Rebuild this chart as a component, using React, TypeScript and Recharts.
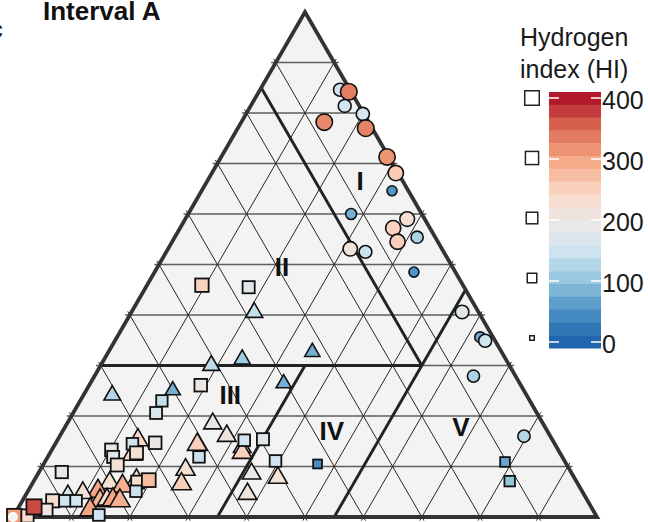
import { Area, ComposedChart, Line, Scatter, XAxis, YAxis } from 'recharts'

const W = 648
const H = 522
const FONT = '"Liberation Sans", Arial, sans-serif'

// samples as [A (top), B (left), C (right), HI], percentages
const circles = [
  [84.6, 1.7, 13.7, 150],
  [84.2, 0.4, 15.4, 335],
  [81.4, 2.5, 16.1, 150],
  [79.8, 0.2, 20.0, 160],
  [78.2, 7.6, 14.2, 325],
  [77.0, 1.1, 21.9, 330],
  [71.3, 0.3, 28.4, 315],
  [68.1, 0.4, 31.5, 260],
  [64.6, 2.8, 32.6, 55],
  [60.0, 12.1, 27.9, 80],
  [59.0, 3.0, 38.0, 230],
  [57.2, 6.3, 36.5, 250],
  [55.4, 3.1, 41.5, 120],
  [54.5, 6.9, 38.6, 255],
  [53.1, 15.7, 31.2, 215],
  [52.5, 13.4, 34.1, 145],
  [48.5, 7.1, 44.4, 55],
  [40.6, 2.8, 56.6, 175],
  [35.6, 2.2, 62.2, 75],
  [34.9, 1.7, 63.4, 150],
  [27.9, 7.2, 64.9, 120],
  [16.0, 4.5, 79.5, 125],
]

const squares = [
  [10.9, 10.3, 78.8, 70],
  [7.1, 11.4, 81.5, 100],
  [10.5, 42.6, 46.9, 45],
  [45.9, 44.7, 9.4, 250],
  [45.5, 36.9, 17.6, 175],
  [26.1, 54.8, 19.1, 200],
  [23.0, 63.0, 14.0, 140],
  [20.6, 65.2, 14.2, 165],
  [14.7, 68.3, 17.0, 200],
  [14.5, 72.3, 13.2, 150],
  [13.3, 76.5, 10.2, 200],
  [11.9, 76.9, 11.2, 170],
  [12.7, 72.5, 14.8, 225],
  [10.3, 77.0, 12.7, 225],
  [11.9, 62.2, 25.9, 145],
  [15.2, 52.8, 32.0, 150],
  [15.4, 49.5, 35.1, 175],
  [11.1, 49.5, 39.4, 150],
  [8.9, 87.2, 3.9, 185],
  [6.9, 75.2, 17.9, 225],
  [7.3, 73.1, 19.6, 275],
  [5.1, 76.4, 18.5, 145],
  [3.2, 91.6, 5.2, 235],
  [3.2, 89.5, 7.3, 150],
  [3.2, 87.6, 9.2, 150],
  [1.4, 93.6, 5.0, 200],
  [0.2, 97.5, 2.3, 240],
  [2.0, 95.4, 2.6, 370],
  [0.2, 99.7, 0.1, 310],
  [0.4, 85.1, 14.5, 150],
]

const triangles = [
  [41.0, 38.2, 20.8, 140],
  [30.5, 50.8, 18.7, 135],
  [31.7, 44.9, 23.4, 110],
  [33.1, 32.2, 34.7, 80],
  [26.9, 40.2, 32.9, 80],
  [25.5, 59.9, 14.6, 80],
  [24.6, 70.7, 4.7, 125],
  [19.0, 56.3, 24.7, 180],
  [16.6, 55.1, 28.3, 210],
  [14.9, 61.0, 24.1, 255],
  [14.3, 53.6, 32.1, 165],
  [13.3, 54.1, 32.6, 250],
  [9.9, 65.5, 24.6, 225],
  [7.1, 67.6, 25.3, 255],
  [9.1, 54.6, 36.3, 195],
  [8.3, 50.5, 41.2, 215],
  [5.1, 57.3, 37.6, 210],
  [15.8, 70.7, 13.5, 245],
  [12.9, 73.1, 14.0, 240],
  [7.3, 79.8, 12.9, 225],
  [5.7, 82.6, 11.7, 300],
  [7.9, 74.9, 17.2, 220],
  [6.7, 77.9, 15.4, 290],
  [3.8, 83.2, 13.0, 285],
  [4.0, 81.9, 14.1, 230],
  [4.0, 80.9, 15.1, 300],
  [3.8, 79.8, 16.4, 290],
  [5.3, 85.4, 9.3, 220],
  [4.8, 88.2, 7.0, 160],
  [2.0, 85.8, 12.2, 300],
]

// field boundaries, ternary [A, B, C] end points
const boundaries = [
  [[30, 70, 0], [30, 15, 55]],
  [[85, 15, 0], [30, 15, 55]],
  [[45, 0, 55], [0, 45, 55]],
  [[30, 35, 35], [0, 65, 35]],
]

const regionNames = ['I', 'II', 'III', 'IV', 'V']
const regionA = [66.7, 49.7, 24.2, 17.2, 18.0]
const regionC = [26.1, 21.2, 25.1, 46.0, 67.7]

const hiTicks = [0, 100, 200, 300, 400]
const hiStops = [0, 50, 100, 150, 190, 240, 300, 350, 400]
const hiColors = ['#2166ac', '#4a90c4', '#92c5de', '#d1e5f0', '#e8e8e8', '#fadccc', '#f4a582', '#dd6c54', '#b2182b']

function hexRgb(h: string) {
  return [1, 3, 5].map((i) => parseInt(h.slice(i, i + 2), 16))
}

function hiColor(hi: number) {
  const v = Math.max(0, Math.min(400, hi))
  let i = 0
  while (i < hiStops.length - 2 && v > hiStops[i + 1]) i++
  const t = (v - hiStops[i]) / (hiStops[i + 1] - hiStops[i])
  const a = hexRgb(hiColors[i])
  const b = hexRgb(hiColors[i + 1])
  const c = a.map((x, k) => Math.round(x + (b[k] - x) * t))
  return `rgb(${c[0]},${c[1]},${c[2]})`
}

const markSize = (hi: number) => 4.5 + 10 * Math.sqrt(Math.max(hi, 0) / 400)

// ternary -> cartesian (x across, y = top share)
const toXY = (a: number, c: number) => ({ x: (c + a / 2) / 100, y: a / 100 })

const points = [
  ...triangles.map((p) => ({ ...toXY(p[0], p[2]), hi: p[3], kind: 'tri' })),
  ...squares.map((p) => ({ ...toXY(p[0], p[2]), hi: p[3], kind: 'sq' })),
  ...circles.map((p) => ({ ...toXY(p[0], p[2]), hi: p[3], kind: 'circ' })),
]

const labelData = regionNames.map((n, i) => ({ ...toXY(regionA[i], regionC[i]), name: n }))

const triFill = [
  { x: 0, y: 0 },
  { x: 0.5, y: 1 },
  { x: 1, y: 0 },
]
const triEdge = [...triFill, { x: 0, y: 0 }]

// grid lines every 10%, a little longer than the triangle for the ticks
const EXT = 0.008
function gridSegment(p: { x: number; y: number }, q: { x: number; y: number }) {
  const dx = q.x - p.x
  const dy = q.y - p.y
  const len = Math.hypot(dx, dy)
  const ux = (dx / len) * EXT
  const uy = (dy / len) * EXT
  return [
    { x: p.x - ux, y: p.y - uy },
    { x: q.x + ux, y: q.y + uy },
  ]
}
const hGrid: { x: number; y: number }[][] = []
const dGrid: { x: number; y: number }[][] = []
for (let k = 1; k < 10; k++) {
  const f = k / 10
  hGrid.push(gridSegment({ x: f / 2, y: f }, { x: 1 - f / 2, y: f }))
  dGrid.push(gridSegment({ x: (1 - f) / 2, y: 1 - f }, { x: 1 - f, y: 0 }))
  dGrid.push(gridSegment({ x: f, y: 0 }, { x: f + (1 - f) / 2, y: 1 - f }))
}
const boundaryLines = boundaries.map(([p, q]) => [toXY(p[0], p[2]), toXY(q[0], q[2])])

function Marker(props: any) {
  const { cx, cy, payload } = props
  if (cx == null || cy == null) return null
  const s = markSize(payload.hi)
  const fill = hiColor(payload.hi)
  const stroke = '#111'
  if (payload.kind === 'circ') {
    return <circle cx={cx} cy={cy} r={(s * 1.22) / 2} fill={fill} stroke={stroke} strokeWidth={1.6} />
  }
  if (payload.kind === 'sq') {
    const d = s + 1
    return <rect x={cx - d / 2} y={cy - d / 2} width={d} height={d} fill={fill} stroke={stroke} strokeWidth={1.8} />
  }
  const w = s * 1.3 + 3.5
  const h = w * 0.87
  return (
    <polygon
      points={`${cx},${cy - h / 2} ${cx + w / 2},${cy + h / 2} ${cx - w / 2},${cy + h / 2}`}
      fill={fill}
      stroke={stroke}
      strokeWidth={1.6}
      strokeLinejoin="miter"
    />
  )
}

function RegionLabel(props: any) {
  const { cx, cy, payload } = props
  if (cx == null || cy == null) return null
  return (
    <text x={cx} y={cy + 9.5} textAnchor="middle" fontFamily={FONT} fontWeight={700} fontSize={26} fill="#111">
      {payload.name}
    </text>
  )
}

function Legend() {
  const barX = 549
  const barW = 52
  const barTop = 92
  const barH = 256
  const nBands = 20
  const bandH = barH / nBands
  const tickY = (v: number) => 342 - (v / 400) * 244
  const keyY = (v: number) => 338 - (v / 400) * 240
  return (
    <svg width={W} height={H} style={{ position: 'absolute', left: 0, top: 0, pointerEvents: 'none' }}>
      <text x={-11} y={38} fontFamily={FONT} fontWeight={700} fontSize={25} fill="#111">
        c
      </text>
      <text x={43} y={20} fontFamily={FONT} fontWeight={700} fontSize={26} fill="#111">
        Interval A
      </text>
      <text x={520} y={46} fontFamily={FONT} fontSize={25} fill="#1a1a1a">
        Hydrogen
      </text>
      <text x={520} y={78} fontFamily={FONT} fontSize={25} fill="#1a1a1a">
        index (HI)
      </text>
      {Array.from({ length: nBands }, (_, i) => (
        <rect
          key={i}
          x={barX}
          y={barTop + i * bandH}
          width={barW}
          height={bandH + 0.5}
          fill={hiColor(410 - 21 * (i + 0.5))}
        />
      ))}
      {hiTicks.map((v) => (
        <g key={v}>
          <line x1={barX} x2={barX + 10} y1={tickY(v)} y2={tickY(v)} stroke="#fff" strokeWidth={1.5} />
          <line x1={barX + barW - 10} x2={barX + barW} y1={tickY(v)} y2={tickY(v)} stroke="#fff" strokeWidth={1.5} />
          <text x={602} y={tickY(v) + 11} fontFamily={FONT} fontSize={25} fill="#1a1a1a">
            {v}
          </text>
          <rect
            x={532 - markSize(v) / 2}
            y={keyY(v) - markSize(v) / 2}
            width={markSize(v)}
            height={markSize(v)}
            fill="none"
            stroke="#222"
            strokeWidth={1.5}
          />
        </g>
      ))}
    </svg>
  )
}

export default function App() {
  return (
    <div style={{ position: 'absolute', left: 0, top: 0, width: W, height: H, background: '#fff' }}>
      <ComposedChart width={W} height={H} margin={{ top: 0, right: 0, bottom: 0, left: 0 }}>
        <XAxis type="number" dataKey="x" domain={[-13 / 584, 635 / 584]} allowDataOverflow hide />
        <YAxis type="number" dataKey="y" domain={[-5 / 505, 517 / 505]} allowDataOverflow hide />
        <Area
          data={triFill}
          dataKey="y"
          type="linear"
          fill="#f3f3f3"
          fillOpacity={1}
          stroke="none"
          baseValue={0}
          isAnimationActive={false}
        />
        {hGrid.map((seg, i) => (
          <Line
            key={`h${i}`}
            data={seg}
            dataKey="y"
            type="linear"
            stroke="#5e5e5e"
            strokeWidth={1.5}
            dot={false}
            activeDot={false}
            isAnimationActive={false}
          />
        ))}
        {dGrid.map((seg, i) => (
          <Line
            key={`d${i}`}
            data={seg}
            dataKey="y"
            type="linear"
            stroke="#262626"
            strokeWidth={1}
            dot={false}
            activeDot={false}
            isAnimationActive={false}
          />
        ))}
        {boundaryLines.map((seg, i) => (
          <Line
            key={`b${i}`}
            data={seg}
            dataKey="y"
            type="linear"
            stroke="#222"
            strokeWidth={2.9}
            dot={false}
            activeDot={false}
            isAnimationActive={false}
          />
        ))}
        <Line
          data={triEdge}
          dataKey="y"
          type="linear"
          stroke="#333"
          strokeWidth={3.8}
          strokeLinejoin="miter"
          strokeLinecap="square"
          dot={false}
          activeDot={false}
          isAnimationActive={false}
        />
        <Scatter data={labelData} dataKey="y" shape={RegionLabel} isAnimationActive={false} />
        <Scatter data={points} dataKey="y" shape={Marker} isAnimationActive={false} />
      </ComposedChart>
      <Legend />
    </div>
  )
}
